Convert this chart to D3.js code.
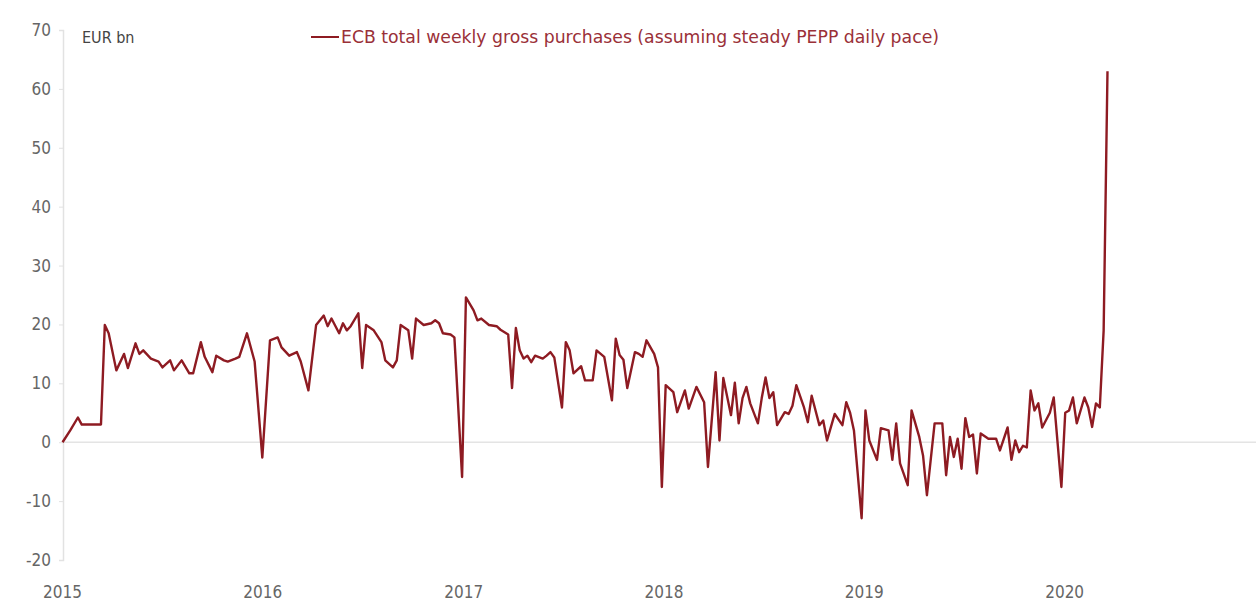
<!DOCTYPE html>
<html>
<head>
<meta charset="utf-8">
<title>ECB weekly gross purchases</title>
<script src="https://d3js.org/d3.v7.min.js"></script>
<style>
  body { margin: 0; background: #fff; }
  text { font-family: "Liberation Sans Narrow", "DejaVu Sans Condensed", "Roboto", sans-serif; font-stretch: condensed; }
</style>
</head>
<body>
<div id="chart"></div>
<script>
// weeks counted from the first Friday of 2015, values in EUR bn
var weeks = [0, 2, 4, 5, 10, 11, 12, 14, 16, 17, 19, 20, 21, 23, 25, 26, 28, 29, 31, 33, 34, 36, 37, 39, 40, 42, 43, 45, 46, 48, 50, 52,
  54, 56, 57, 59, 61, 62, 64, 66, 68, 69, 70, 72, 73, 74, 75, 77, 78, 79, 81, 83, 84, 86, 87, 88, 90, 91, 92, 94, 96, 97, 98, 99, 101, 102, 104,
  105, 107, 108, 109, 111, 113, 114, 116, 117, 118, 119, 120, 121, 122, 123, 125, 126, 127, 128, 130, 131, 132, 133, 135, 136, 138, 139, 141, 143, 144, 145, 146, 147, 149, 150, 151, 152, 154, 155, 156,
  157, 159, 160, 162, 163, 165, 167, 168, 170, 171, 172, 174, 175, 176, 177, 178, 179, 181, 182, 183, 184, 185, 186, 188, 189, 190, 191, 193, 194, 195, 197, 198, 199, 201, 203, 204, 205, 206, 208,
  209, 210, 212, 213, 215, 216, 217, 218, 220, 221, 223, 224, 225, 227, 229, 230, 231, 232, 233, 234, 235, 236, 237, 238, 239, 241, 243, 244, 246, 247, 248, 249, 250, 251, 252, 253, 254, 255, 257, 258, 260,
  261, 262, 263, 264, 266, 267, 268, 269, 270, 271, 272];

var values = [0, 2, 4.2, 3.0, 3.0, 19.9, 18.5, 12.2, 15, 12.6, 16.8, 15, 15.6, 14.2, 13.7, 12.7, 13.9, 12.2, 13.9, 11.7, 11.7, 17, 14.5, 11.9, 14.7, 13.9, 13.7, 14.2, 14.5, 18.5, 13.7, -2.6,
  17.3, 17.8, 16.1, 14.7, 15.3, 13.7, 8.8, 19.9, 21.5, 19.7, 21, 18.5, 20.2, 19, 19.7, 21.9, 12.6, 19.9, 19, 17, 13.9, 12.7, 13.9, 19.9, 19, 14.2, 21, 19.9, 20.2, 20.7, 20.2, 18.5, 18.3, 17.8, -5.9,
  24.6, 22.4, 20.7, 21, 19.9, 19.7, 19.1, 18.3, 9.2, 19.4, 15.6, 14.2, 14.7, 13.6, 14.7, 14.2, 14.7, 15.3, 14.4, 5.9, 17, 15.6, 11.7, 12.9, 10.5, 10.5, 15.6, 14.5, 7.1, 17.6, 14.8, 14, 9.2, 15.3, 15, 14.5, 17.3, 15, 12.7, -7.6,
  9.7, 8.5, 5.1, 8.8, 5.7, 9.4, 6.8, -4.2, 11.9, 0.3, 10.9, 4.6, 10.1, 3.2, 7.5, 9.4, 6.6, 3.2, 7.5, 11, 7.5, 8.5, 2.9, 5.1, 4.8, 6.2, 9.7, 5.9, 3.4, 7.9, 2.9, 3.7, 0.3, 4.8, 2.9, 6.8, 5.0, 2.0, -12.9,
  5.4, 0.3, -3, 2.4, 2, -3, 3.2, -3.6, -7.3, 5.4, 0.9, -2.3, -9, 3.2, 3.2, -5.6, 0.9, -2.5, 0.6, -4.5, 4.1, 0.9, 1.3, -5.3, 1.5, 0.6, 0.6, -1.4, 2.5, -3, 0.3, -1.7, -0.6, -0.9, 8.8, 5.4, 6.6, 2.5, 5, 7.6, -7.6,
  5, 5.4, 7.6, 3.2, 7.6, 5.9, 2.6, 6.6, 5.9, 19, 63];

var yTicks = [-20, -10, 0, 10, 20, 30, 40, 50, 60, 70];
var xYears = [2015, 2016, 2017, 2018, 2019, 2020];
var unitLabel = "EUR bn";
var seriesName = "ECB total weekly gross purchases (assuming steady PEPP daily pace)";

var W = 1256, H = 606;
var start = new Date(2015, 0, 2);

var data = weeks.map(function(w, i) {
  return { date: d3.timeDay.offset(start, 7 * w), value: values[i] };
});

var svg = d3.select("#chart").append("svg")
  .attr("width", W)
  .attr("height", H);

var x = d3.scaleTime()
  .domain([new Date(2015, 0, 1), new Date(2021, 0, 1)])
  .range([62, 1265]);

var y = d3.scaleLinear()
  .domain([-20, 70])
  .range([560, 30]);

// y axis (plain hyphen for negatives, as in the original)
var yAxis = svg.append("g")
  .attr("transform", "translate(63,0)")
  .call(d3.axisLeft(y).tickValues(yTicks).tickSize(4).tickPadding(8)
    .tickFormat(function(d) { return String(d); }));
yAxis.select(".domain").attr("stroke", "#e2e2e2").attr("stroke-width", 1.5);
yAxis.selectAll(".tick line").attr("stroke", "#e2e2e2");
yAxis.selectAll(".tick text")
  .attr("fill", "#666")
  .style("font-size", "17px");

// x axis labels
var xAxis = svg.append("g")
  .attr("transform", "translate(0,582)")
  .call(d3.axisBottom(x).tickValues(xYears.map(function(yr) { return new Date(yr, 0, 1); }))
    .tickFormat(d3.timeFormat("%Y")).tickSize(0).tickPadding(4));
xAxis.select(".domain").remove();
xAxis.selectAll(".tick text")
  .attr("fill", "#666")
  .style("font-size", "17px");

// zero line
svg.append("line")
  .attr("x1", 63).attr("x2", W)
  .attr("y1", y(0)).attr("y2", y(0))
  .attr("stroke", "#e4e4e4")
  .attr("stroke-width", 1.5);

// series
svg.append("path")
  .datum(data)
  .attr("fill", "none")
  .attr("stroke", "#8e1b22")
  .attr("stroke-width", 2.4)
  .attr("stroke-linejoin", "round")
  .attr("d", d3.line()
    .x(function(d) { return x(d.date); })
    .y(function(d) { return y(d.value); }));

// unit label
svg.append("text")
  .attr("x", 82).attr("y", 43)
  .attr("fill", "#444")
  .style("font-size", "16px")
  .text(unitLabel);

// legend
svg.append("line")
  .attr("x1", 311).attr("x2", 339)
  .attr("y1", 37).attr("y2", 37)
  .attr("stroke", "#8e1b22")
  .attr("stroke-width", 2);
svg.append("text")
  .attr("x", 341).attr("y", 43)
  .attr("fill", "#9a3038")
  .attr("textLength", 598)
  .attr("lengthAdjust", "spacingAndGlyphs")
  .style("font-size", "17px")
  .text(seriesName);
</script>
</body>
</html>
